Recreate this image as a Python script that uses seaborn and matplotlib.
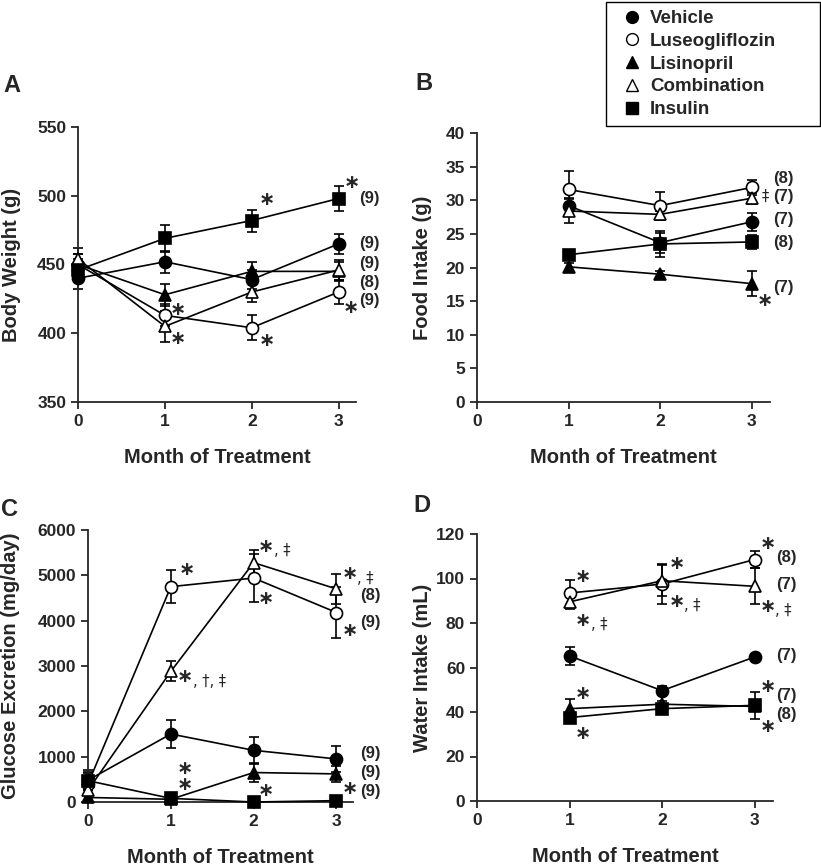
import matplotlib.pyplot as plt
import pandas as pd
import seaborn as sns
from matplotlib.lines import Line2D
from matplotlib.patches import Rectangle


OUTPUT_PATH = "out.png"
FIG_W, FIG_H = 821, 866

GROUPS = ["Vehicle", "Luseogliflozin", "Lisinopril", "Combination", "Insulin"]
GROUP_MARKERS = ["o", "o", "^", "^", "s"]
GROUP_FACES = ["black", "white", "black", "white", "black"]

MONTHS_ALL = [0, 1, 2, 3]
MONTHS_INTAKE = [1, 2, 3]

# means and SEM, one row per group (same order as GROUPS)
BW_MEAN = [
    [440, 452, 439, 465],
    [450, 413, 404, 430],
    [450, 428, 445, 445],
    [454, 405, 430, 446],
    [446, 469, 482, 498],
]
BW_SE = [
    [8, 8, 7, 7],
    [8, 8, 9, 9],
    [8, 8, 7, 7],
    [8, 11, 7, 7],
    [8, 10, 8, 9],
]

FOOD_MEAN = [
    [29.2, 23.7, 26.8],
    [31.6, 29.2, 31.9],
    [20.1, 19.0, 17.6],
    [28.4, 27.9, 30.3],
    [21.9, 23.5, 23.8],
]
FOOD_SE = [
    [1.2, 1.5, 1.3],
    [2.7, 2.1, 1.1],
    [0.5, 0.5, 1.9],
    [1.8, 0.5, 0.8],
    [0.7, 2.0, 1.0],
]

GLUC_MEAN = [
    [480, 1500, 1140, 950],
    [400, 4750, 4940, 4180],
    [100, 60, 650, 620],
    [260, 2880, 5280, 4700],
    [470, 80, 0, 30],
]
GLUC_SE = [
    [220, 300, 300, 290],
    [250, 370, 520, 570],
    [60, 40, 200, 170],
    [100, 220, 280, 340],
    [200, 30, 10, 20],
]

WATER_MEAN = [
    [65.2, 49.6, 64.7],
    [93.5, 97.5, 108.5],
    [41.5, 43.5, 42.5],
    [89.5, 99.0, 96.5],
    [37.5, 41.5, 43.0],
]
WATER_SE = [
    [4, 2, 1.5],
    [6, 9, 4],
    [4.5, 1.5, 1.5],
    [3, 7, 8],
    [2, 1.5, 6],
]

# significance marks: (month, value, marks, suffix after the asterisk)
BW_STARS = [(2.17, 497, "∗", ""), (3.15, 510, "∗", ""), (3.14, 419, "∗", ""),
            (1.15, 417, "∗", ""), (1.15, 396, "∗", ""), (2.17, 395, "∗", "")]
BW_N = [(498, "(9)"), (465.5, "(9)"), (451, "(9)"), (437, "(8)"), (424, "(9)")]

FOOD_STARS = [(3.14, 15.1, "∗", "")]
FOOD_N = [(33.3, "(8)"), (30.6, "(7)"), (27.2, "(7)"), (23.7, "(8)"), (17.1, "(7)")]

GLUC_STARS = [(1.19, 5118, "∗", ""), (2.15, 5633, "∗", ", ‡"), (2.15, 4492, "∗", ""),
              (3.16, 5030, "∗", ", ‡"), (3.16, 3792, "∗", ""), (1.17, 2761, "∗", ", †, ‡"),
              (1.17, 570, "∗\n∗", ""), (2.15, 258, "∗", ""), (3.16, 295, "∗", "")]
GLUC_N = [(4550, "(8)"), (3954, "(9)"), (1068, "(9)"), (640, "(9)"), (221, "(9)")]

WATER_STARS = [(1.15, 101.1, "∗", ""), (1.15, 81.3, "∗", ", ‡"), (2.16, 106.8, "∗", ""),
               (2.16, 89.6, "∗", ", ‡"), (3.14, 115.8, "∗", ""), (3.14, 87.3, "∗", ", ‡"),
               (1.15, 48.4, "∗", ""), (1.15, 30.4, "∗", ""), (3.14, 51.4, "∗", ""),
               (3.14, 33.4, "∗", "")]
WATER_N = [(109.5, "(8)"), (97.1, "(7)"), (65.3, "(7)"), (47.6, "(7)"), (38.7, "(8)")]


def px_box(left, top, right, bottom):
    # pixel box (from top-left) -> figure fraction [x, y, w, h]
    return [left / FIG_W, 1 - bottom / FIG_H, (right - left) / FIG_W, (bottom - top) / FIG_H]


def to_long(months, means, ses):
    rows = []
    for group, m_row, s_row in zip(GROUPS, means, ses):
        for month, m, s in zip(months, m_row, s_row):
            rows.append({"group": group, "month": month, "value": m, "se": s})
    return pd.DataFrame(rows)


def draw_panel(ax, df, ylim, yticks, ylabel, label_x, stars, n_labels, n_x):
    for group, marker, face in zip(GROUPS, GROUP_MARKERS, GROUP_FACES):
        sub = df[df["group"] == group]
        ax.errorbar(sub["month"], sub["value"], yerr=sub["se"], fmt="none",
                    ecolor="black", elinewidth=1.2, capsize=3.5, capthick=1.2,
                    zorder=2, clip_on=False)
        sns.lineplot(data=sub, x="month", y="value", ax=ax, color="black",
                     marker=marker, markersize=8.7 if marker != "s" else 8.2,
                     markerfacecolor=face, markeredgecolor="black",
                     markeredgewidth=1.2, linewidth=1.2, label=group,
                     legend=False, clip_on=False, zorder=3)

    ax.set_xlim(0, 3.2)
    ax.set_ylim(*ylim)
    ax.set_xticks(MONTHS_ALL)
    ax.set_yticks(yticks)
    ax.set_xlabel("Month of Treatment", fontsize=14.5, fontweight="bold", labelpad=14)
    ax.set_ylabel(ylabel, fontsize=14.5, fontweight="bold")
    ax.yaxis.set_label_coords(label_x, 0.5)
    ax.tick_params(axis="both", labelsize=12.5, width=1.3, length=5, direction="out")
    for lab in ax.get_xticklabels() + ax.get_yticklabels():
        lab.set_fontweight("bold")
    for side in ("left", "bottom"):
        ax.spines[side].set_linewidth(1.3)
    sns.despine(ax=ax)

    for x, y, marks, suffix in stars:
        ax.text(x, y, marks, family="DejaVu Sans", fontsize=14, fontweight="bold",
                ha="center", va="center", linespacing=0.8, clip_on=False)
        if suffix:
            ax.annotate(suffix, (x, y), xytext=(5.5, -3), textcoords="offset points",
                        family="DejaVu Sans", fontsize=10.5, ha="left", va="center")
    for y, label in n_labels:
        ax.text(n_x, y, label, fontsize=12, fontweight="bold", ha="left", va="center")


def main() -> None:
    sns.set_theme(style="ticks")
    plt.rcParams["font.family"] = ["Liberation Sans", "DejaVu Sans"]

    fig = plt.figure(figsize=(FIG_W / 100, FIG_H / 100), dpi=100)
    ax_a = fig.add_axes(px_box(78, 127, 356, 402))
    ax_b = fig.add_axes(px_box(477, 133, 770, 402))
    ax_c = fig.add_axes(px_box(88, 530, 353, 802))
    ax_d = fig.add_axes(px_box(477, 534, 773, 801))

    draw_panel(ax_a, to_long(MONTHS_ALL, BW_MEAN, BW_SE), (350, 550),
               range(350, 551, 50), "Body Weight (g)", -0.205, BW_STARS, BW_N, 3.24)
    draw_panel(ax_b, to_long(MONTHS_INTAKE, FOOD_MEAN, FOOD_SE), (0, 40),
               range(0, 41, 5), "Food Intake (g)", -0.154, FOOD_STARS, FOOD_N, 3.23)
    ax_b.text(3.15, 30.6, "‡", family="DejaVu Sans", fontsize=10.5, ha="center", va="center")
    draw_panel(ax_c, to_long(MONTHS_ALL, GLUC_MEAN, GLUC_SE), (0, 6000),
               range(0, 6001, 1000), "Glucose Excretion (mg/day)", -0.257,
               GLUC_STARS, GLUC_N, 3.28)
    draw_panel(ax_d, to_long(MONTHS_INTAKE, WATER_MEAN, WATER_SE), (0, 120),
               range(0, 121, 20), "Water Intake (mL)", -0.152, WATER_STARS, WATER_N, 3.23)

    # panel letters
    for letter, x, y in [("A", 3, 85), ("B", 415, 83), ("C", 1, 509), ("D", 413, 505)]:
        fig.text(x / FIG_W, 1 - y / FIG_H, letter, fontsize=17, fontweight="bold",
                 ha="left", va="center")

    handles = [
        Line2D([], [], linestyle="none", marker=m, markersize=8.5 if m != "s" else 8,
               markerfacecolor=f, markeredgecolor="black", markeredgewidth=1.0)
        for m, f in zip(GROUP_MARKERS, GROUP_FACES)
    ]
    fig.legend(handles, GROUPS, loc="upper left",
               bbox_to_anchor=(623 / FIG_W, 1 - 10 / FIG_H), frameon=False,
               handlelength=1.0, handletextpad=0.45, labelspacing=0.3,
               borderpad=0, borderaxespad=0,
               prop={"weight": "bold", "size": 13.5})
    fig.patches.append(Rectangle((606 / FIG_W, 1 - 126 / FIG_H), 214 / FIG_W, 124 / FIG_H,
                                 transform=fig.transFigure, fill=False,
                                 edgecolor="black", linewidth=1.0))

    fig.savefig(OUTPUT_PATH, dpi=100)


if __name__ == "__main__":
    main()
